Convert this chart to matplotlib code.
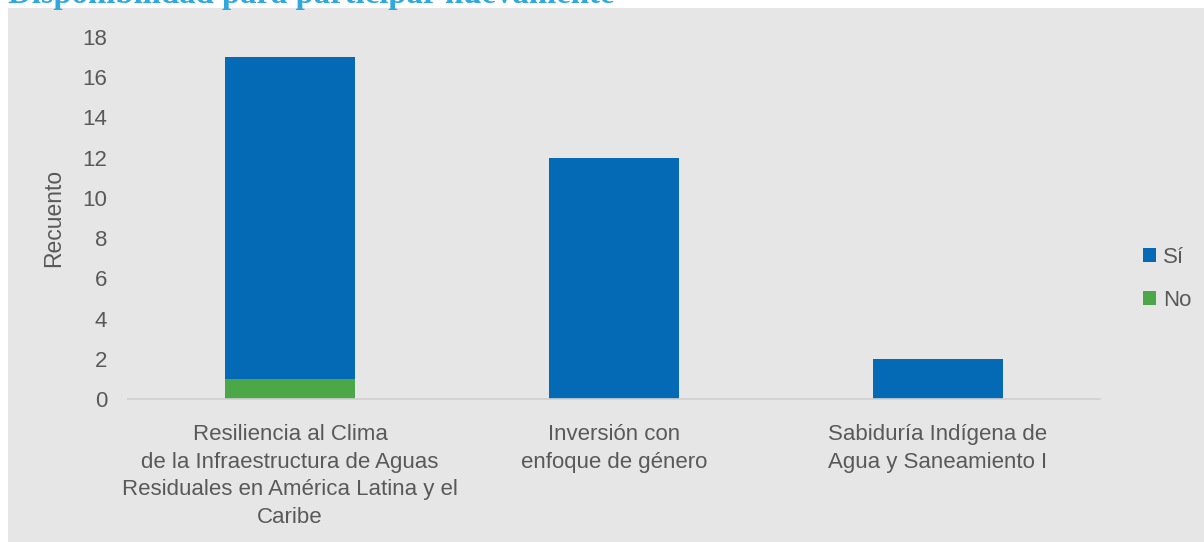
import matplotlib.pyplot as plt
from matplotlib.patches import Rectangle

# data
categorias = [
    "Resiliencia al Clima\nde la Infraestructura de Aguas\nResiduales en América Latina y el\nCaribe",
    "Inversión con\nenfoque de género",
    "Sabiduría Indígena de\nAgua y Saneamiento I",
]
no_vals = [1, 0, 0]
si_vals = [16, 12, 2]
y_ticks = [0, 2, 4, 6, 8, 10, 12, 14, 16, 18]

W, H = 1204, 542
fig = plt.figure(figsize=(W / 100, H / 100), dpi=100)
fig.patch.set_facecolor("white")

# grey panel behind the chart
panel = Rectangle((8 / W, 0), 1 - 8 / W, 1 - 8 / H,
                  transform=fig.transFigure, facecolor="#E6E6E6",
                  edgecolor="none", zorder=-10)
fig.add_artist(panel)

# clipped title at the top
fig.text(8 / W, 1 - 3.5 / H, "Disponibilidad para participar nuevamente",
         family="Liberation Serif", fontweight="bold", fontsize=23.6,
         color="#2FA8E0", va="baseline", ha="left", zorder=5)

ax = fig.add_axes([128 / W, 1 - 399 / H, 972 / W, 362 / H])
ax.set_facecolor("none")

x = range(len(categorias))
ax.bar(x, no_vals, width=0.4, color="#4BA747", label="No", zorder=2)
ax.bar(x, si_vals, width=0.4, bottom=no_vals, color="#056AB6", label="Sí", zorder=2)

ax.set_xlim(-0.5, 2.5)
ax.set_ylim(0, 18)
ax.set_yticks(y_ticks)
ax.set_yticklabels([str(v) for v in y_ticks], family="Liberation Sans",
                   fontsize=16, color="#595959")
ax.set_xticks(list(x))
ax.set_xticklabels(categorias, family="Liberation Sans",
                   fontsize=16, color="#595959", linespacing=1.41)
ax.tick_params(axis="both", length=0)
ax.tick_params(axis="y", pad=15)
ax.tick_params(axis="x", pad=18)

for s in ["top", "right", "left"]:
    ax.spines[s].set_visible(False)
ax.spines["bottom"].set_color("#D0D0D0")
ax.spines["bottom"].set_linewidth(1.2)

ax.set_ylabel("Recuento", family="Liberation Sans", fontsize=16.5,
              color="#595959", labelpad=12)

handles, labels = ax.get_legend_handles_labels()
leg = fig.legend(handles[::-1], labels[::-1], loc="center left",
                 bbox_to_anchor=(1123 / W, 1 - 279 / H), frameon=False,
                 prop={"family": "Liberation Sans", "size": 16},
                 handlelength=0.6, handleheight=0.6, handletextpad=0.3,
                 labelspacing=1.0, labelcolor="#595959")

fig.savefig("out.png", dpi=100)
